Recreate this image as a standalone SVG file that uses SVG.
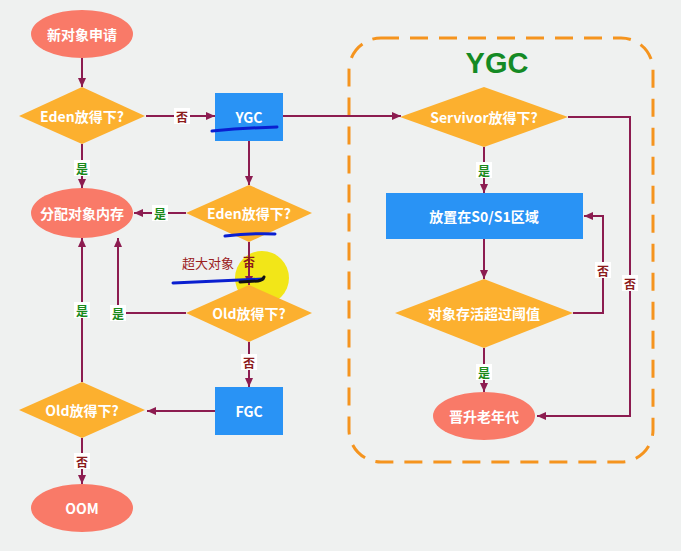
<svg xmlns="http://www.w3.org/2000/svg" width="681" height="551" viewBox="0 0 681 551">
<defs>
<marker id="arr" markerWidth="10" markerHeight="10" refX="9" refY="5" orient="auto" markerUnits="userSpaceOnUse">
<path d="M0,1 L9,5 L0,9 Z" fill="#8c1c50"/>
</marker>
<style>
.bg{fill:#eff1f0}
.ell{fill:#f97a68}
.dia{fill:#fcb02f}
.box{fill:#2993f5}
.t{font-family:"Noto Sans CJK SC","Liberation Sans",sans-serif;font-weight:bold;font-size:14px;fill:#ffffff;text-anchor:middle;dominant-baseline:central}
.c{fill:none;stroke:#8c1c50;stroke-width:2}
.lb{fill:#ffffff}
.yes{font-family:"Noto Sans CJK SC",sans-serif;font-weight:bold;font-size:12px;fill:#1a8a1a;text-anchor:middle;dominant-baseline:central}
.no{font-family:"Noto Sans CJK SC",sans-serif;font-weight:bold;font-size:12px;fill:#8b1a1a;text-anchor:middle;dominant-baseline:central}
.mark{fill:none;stroke:#0a1fd0;stroke-width:3;stroke-linecap:round}
</style>
</defs>
<rect class="bg" x="0" y="0" width="681" height="551"/>

<g id="ygc-region">
<rect x="349" y="38" width="304" height="424" rx="32" fill="none" stroke="#f5941e" stroke-width="3" stroke-dasharray="18,11"/>
<text x="497" y="63" font-family="Liberation Sans,sans-serif" font-weight="bold" font-size="29" fill="#148a24" text-anchor="middle" dominant-baseline="central">YGC</text>
</g>

<circle id="highlight" cx="262" cy="278" r="27" fill="#f2e400" opacity="0.9"/>

<g id="connectors">
<line class="c" x1="82" y1="58" x2="82" y2="87" marker-end="url(#arr)"/>
<line class="c" x1="146" y1="116" x2="215" y2="116" marker-end="url(#arr)"/>
<line class="c" x1="82" y1="144" x2="82" y2="188" marker-end="url(#arr)"/>
<line class="c" x1="249" y1="141" x2="249" y2="185" marker-end="url(#arr)"/>
<line class="c" x1="186" y1="213" x2="134" y2="213" marker-end="url(#arr)"/>
<line class="c" x1="249" y1="242" x2="249" y2="285" marker-end="url(#arr)"/>
<polyline class="c" points="186,313 118,313 118,238" marker-end="url(#arr)"/>
<line class="c" x1="249" y1="342" x2="249" y2="387" marker-end="url(#arr)"/>
<line class="c" x1="215" y1="411" x2="147" y2="411" marker-end="url(#arr)"/>
<line class="c" x1="82" y1="382" x2="82" y2="238" marker-end="url(#arr)"/>
<line class="c" x1="82" y1="438" x2="82" y2="484" marker-end="url(#arr)"/>
<line class="c" x1="283" y1="116" x2="401" y2="116" marker-end="url(#arr)"/>
<line class="c" x1="484" y1="147" x2="484" y2="193" marker-end="url(#arr)"/>
<line class="c" x1="484" y1="239" x2="484" y2="279" marker-end="url(#arr)"/>
<polyline class="c" points="573,313 603,313 603,216 584,216" marker-end="url(#arr)"/>
<line class="c" x1="484" y1="348" x2="484" y2="392" marker-end="url(#arr)"/>
<polyline class="c" points="568,117 630,117 630,416 537,416" marker-end="url(#arr)"/>

<rect class="lb" x="174" y="108" width="16" height="16"/><text class="no" x="182" y="116">否</text>
<rect class="lb" x="74" y="160" width="16" height="16"/><text class="yes" x="82" y="168">是</text>
<rect class="lb" x="152" y="205" width="16" height="16"/><text class="yes" x="160" y="213">是</text>
<text x="208" y="262" font-family="Noto Sans CJK SC,sans-serif" font-size="13" fill="#9b2020" text-anchor="middle" dominant-baseline="central">超大对象</text>
<text class="no" x="249" y="261">否</text>
<rect class="lb" x="110" y="305" width="16" height="16"/><text class="yes" x="118" y="313">是</text>
<rect class="lb" x="74" y="302" width="16" height="16"/><text class="yes" x="82" y="310">是</text>
<rect class="lb" x="241" y="354" width="16" height="16"/><text class="no" x="249" y="362">否</text>
<rect class="lb" x="74" y="453" width="16" height="16"/><text class="no" x="82" y="461">否</text>
<rect class="lb" x="476" y="162" width="16" height="16"/><text class="yes" x="484" y="170">是</text>
<rect class="lb" x="476" y="364" width="16" height="16"/><text class="yes" x="484" y="372">是</text>
<rect class="lb" x="595" y="262" width="16" height="16"/><text class="no" x="603" y="270">否</text>
<rect class="lb" x="622" y="275" width="16" height="16"/><text class="no" x="630" y="283">否</text>
</g>

<g id="n-new"><ellipse class="ell" cx="82" cy="34" rx="51" ry="24"/><text class="t" x="82" y="34">新对象申请</text></g>
<g id="n-eden1"><polygon class="dia" points="19,116 82,87 145,116 82,144"/><text class="t" x="82" y="116">Eden放得下?</text></g>
<g id="n-ygc"><rect class="box" x="215" y="93" width="68" height="48"/><text class="t" x="249" y="117">YGC</text></g>
<g id="n-alloc"><ellipse class="ell" cx="82" cy="213" rx="51" ry="25"/><text class="t" x="82" y="213">分配对象内存</text></g>
<g id="n-eden2"><polygon class="dia" points="186,213 249,185 312,213 249,242"/><text class="t" x="249" y="213">Eden放得下?</text></g>
<g id="n-old1"><polygon class="dia" points="186,313 249,285 312,313 249,342"/><text class="t" x="249" y="313">Old放得下?</text></g>
<g id="n-fgc"><rect class="box" x="215" y="387" width="68" height="48"/><text class="t" x="249" y="411">FGC</text></g>
<g id="n-old2"><polygon class="dia" points="19,410 82,382 145,410 82,438"/><text class="t" x="82" y="410">Old放得下?</text></g>
<g id="n-oom"><ellipse class="ell" cx="82" cy="508" rx="51" ry="24"/><text class="t" x="82" y="508">OOM</text></g>
<g id="n-surv"><polygon class="dia" points="400,117 484,87 568,117 484,147"/><text class="t" x="484" y="117">Servivor放得下?</text></g>
<g id="n-s0s1"><rect class="box" x="386" y="193" width="197" height="46"/><text class="t" x="484" y="216">放置在S0/S1区域</text></g>
<g id="n-age"><polygon class="dia" points="395,313 484,279 573,313 484,348"/><text class="t" x="484" y="313">对象存活超过阈值</text></g>
<g id="n-promote"><ellipse class="ell" cx="484" cy="416" rx="51" ry="24"/><text class="t" x="484" y="416">晋升老年代</text></g>

<g id="annotations">
<path class="mark" d="M212,131 Q245,128 277,127"/>
<path class="mark" d="M225,236 Q250,233 275,234"/>
<path class="mark" d="M173,283 Q220,281 263,279"/>
<path d="M240,282 L258,281 Q263,280 264,277" fill="none" stroke="#111" stroke-width="3" stroke-linecap="round"/>
</g>
</svg>
